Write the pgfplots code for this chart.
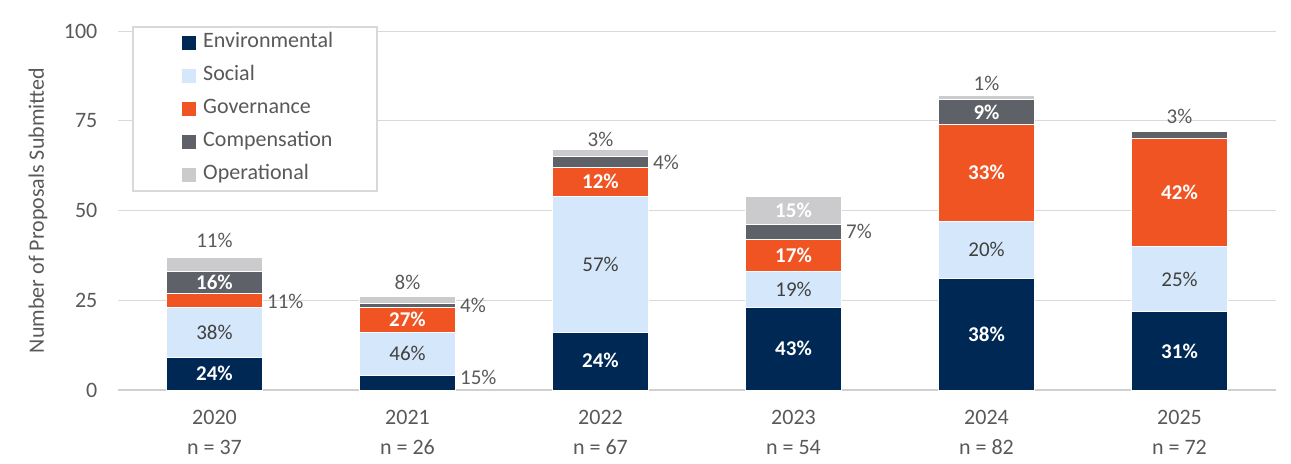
\documentclass[border=0pt]{standalone}
\usepackage{pgfplots}
\pgfplotsset{compat=1.18}
\usepackage{pgfplotstable}
\usepackage{fontspec}
\setmainfont{Carlito}

\definecolor{env}{HTML}{002855}
\definecolor{soc}{HTML}{D5E8FB}
\definecolor{gov}{HTML}{F05423}
\definecolor{comp}{HTML}{5F6168}
\definecolor{oper}{HTML}{CBCBCD}
\definecolor{txt}{HTML}{595959}
\definecolor{lbl}{HTML}{404040}
\definecolor{gridc}{HTML}{D9D9D9}
\definecolor{zeroc}{HTML}{D0D0D0}

\tikzset{
    wlab/.style={font=\fontsize{10.5}{12}\selectfont\bfseries, text=white, text height=6.7pt, text depth=0pt, inner sep=0pt},
    glab/.style={font=\fontsize{10.5}{12}\selectfont, text=lbl, text height=6.7pt, text depth=0pt, inner sep=0pt},
    olab/.style={font=\fontsize{10.5}{12}\selectfont, text=txt, text height=6.7pt, text depth=0pt, inner xsep=2pt, inner ysep=0pt, anchor=west},
    alab/.style={font=\fontsize{10.5}{12}\selectfont, text=txt, text height=6.7pt, text depth=0pt, inner sep=0pt},
}

\pgfplotsset{
    frame/.style={
        at={(0,0)}, anchor=south west,
        scale only axis,
        width=579pt, height=179.5pt,
        xmin=-0.5, xmax=5.5,
        ymin=0, ymax=100,
    },
}

% proposals submitted per category (counts)
\pgfplotstableread{
x env soc gov comp oper
0 9  14 4  6 4
1 4  12 7  1 2
2 16 38 8  3 2
3 23 10 9  4 8
4 31 16 27 7 1
5 22 18 30 2 0
}\proposals

\begin{document}
\begin{tikzpicture}
\useasboundingbox (-59pt,-36.5pt) rectangle (586.5pt,195pt);
\begin{axis}[
    frame,
    ybar stacked,
    bar width=0.5,
    xtick={0,1,2,3,4,5},
    xticklabels={{2020\\n = 37},{2021\\n = 26},{2022\\n = 67},{2023\\n = 54},{2024\\n = 82},{2025\\n = 72}},
    ytick={0,25,50,75,100},
    /pgf/number format/assume math mode=true,
    ymajorgrids,
    grid style={draw=gridc, line width=0.5pt},
    axis x line*=bottom,
    axis y line*=left,
    y axis line style={draw=none},
    x axis line style={draw=zeroc, line width=1pt},
    major tick length=0pt,
    tick style={draw=none},
    xticklabel style={align=center, font=\fontsize{11}{15}\selectfont, text=txt, yshift=-6.8pt},
    yticklabel style={font=\fontsize{11}{13}\selectfont, text=txt, xshift=-6.8pt},
    ylabel={Number of Proposals Submitted},
    ylabel style={at={(axis description cs:-0.0691,0.5)}, anchor=center, font=\fontsize{11}{13}\selectfont, text=txt},
    every axis plot/.append style={draw=white, line width=0.4pt},
    legend image code/.code={\path (-21.5pt,0pt); \fill[#1, draw=none] (0pt,-3.5pt) rectangle (7pt,3.5pt);},
    legend style={at={(axis description cs:0.0121,1.0139)}, anchor=north west,
        draw=gridc, line width=0.8pt, font=\fontsize{11}{13}\selectfont, text=txt,
        inner xsep=3pt, inner ysep=1pt, row sep=2.5pt,
        nodes={inner xsep=3.5pt, inner ysep=2pt, text height=7.5pt, text depth=2.5pt, text width=80.5pt, align=left}},
    legend cell align=left,
    legend entries={Environmental,Social,Governance,Compensation,Operational},
]
\addplot[fill=env]  table[x=x, y=env]  {\proposals};
\addplot[fill=soc]  table[x=x, y=soc]  {\proposals};
\addplot[fill=gov]  table[x=x, y=gov]  {\proposals};
\addplot[fill=comp] table[x=x, y=comp] {\proposals};
\addplot[fill=oper] table[x=x, y=oper] {\proposals};
\end{axis}

% share labels, drawn over the bars
\begin{axis}[frame, hide axis]
% 2020
\node[wlab] at (axis cs:0,4.5) {24\%};
\node[glab] at (axis cs:0,16) {38\%};
\node[olab] at (axis cs:0.25,24.5) {11\%};
\node[wlab] at (axis cs:0,30) {16\%};
\node[alab] at (axis cs:0,41.5) {11\%};
% 2021
\node[olab] at (axis cs:1.25,3.3) {15\%};
\node[glab] at (axis cs:1,10) {46\%};
\node[wlab] at (axis cs:1,19.5) {27\%};
\node[olab] at (axis cs:1.25,23.4) {4\%};
\node[alab] at (axis cs:1,29.8) {8\%};
% 2022
\node[wlab] at (axis cs:2,8) {24\%};
\node[glab] at (axis cs:2,35) {57\%};
\node[wlab] at (axis cs:2,58) {12\%};
\node[olab] at (axis cs:2.25,63.2) {4\%};
\node[alab] at (axis cs:2,69.6) {3\%};
% 2023
\node[wlab] at (axis cs:3,11.5) {43\%};
\node[glab] at (axis cs:3,28) {19\%};
\node[wlab] at (axis cs:3,37.5) {17\%};
\node[olab] at (axis cs:3.25,44) {7\%};
\node[wlab] at (axis cs:3,50) {15\%};
% 2024
\node[wlab] at (axis cs:4,15.3) {38\%};
\node[glab] at (axis cs:4,39) {20\%};
\node[wlab] at (axis cs:4,60.5) {33\%};
\node[wlab] at (axis cs:4,77.3) {9\%};
\node[alab] at (axis cs:4,85.2) {1\%};
% 2025
\node[wlab] at (axis cs:5,10.6) {31\%};
\node[glab] at (axis cs:5,30.6) {25\%};
\node[wlab] at (axis cs:5,55) {42\%};
\node[alab] at (axis cs:5,76) {3\%};
\end{axis}
\end{tikzpicture}
\end{document}
